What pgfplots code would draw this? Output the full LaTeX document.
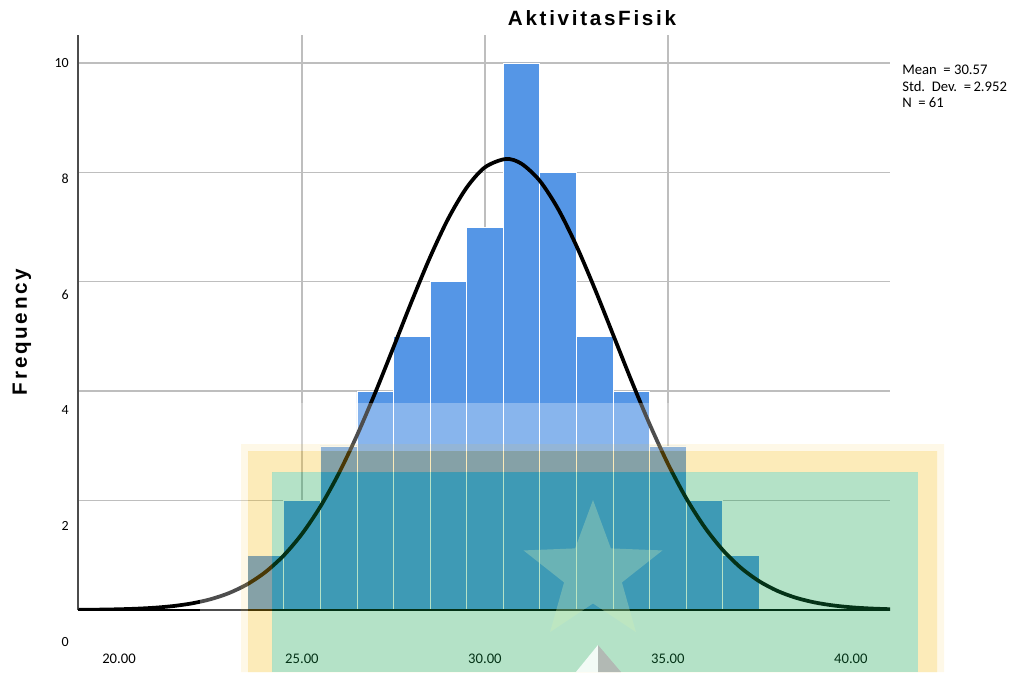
\documentclass[border=0pt]{standalone}
\usepackage{fontspec}
\setmainfont{Carlito}
\newfontfamily\arialsp{Liberation Sans}[LetterSpace=13]
\usepackage{pgfplots}
\pgfplotsset{compat=1.18}
\usetikzlibrary{shapes.geometric}

\definecolor{barblue}{HTML}{5596E6}
\definecolor{gridgray}{HTML}{BEBEBE}
\definecolor{wmyellow}{RGB}{245,188,22}
\definecolor{wmgreen}{RGB}{13,163,75}

\begin{document}
\begin{tikzpicture}
% 1 px of the reference = 0.75pt; axis box spans px x 78..890, y 35..610
\begin{axis}[
  name=ax, at={(0,0)}, anchor=south west,
  scale only axis, width=609pt, height=431.25pt,
  xmin=18.88, xmax=41.07, ymin=0, ymax=10.51,
  axis x line*=bottom, axis y line*=left,
  x axis line style={-, draw=none},
  y axis line style={-, black!70, line width=0.8pt},
  major tick length=0pt,
  xtick={20,25,30,35,40},
  xticklabels={20.00,25.00,30.00,35.00,40.00},
  xticklabel style={font=\fontsize{11}{11}\selectfont, anchor=center, yshift=-36.75pt},
  extra x ticks={25,30,35},
  extra x tick labels={\mbox{},\mbox{},\mbox{}},
  extra x tick style={grid=major},
  ytick={2,4,6,8,10},
  yticklabels={\mbox{},\mbox{},\mbox{},\mbox{},\mbox{}},
  ymajorgrids=true,
  major grid style={gridgray, line width=1.1pt},
]
\addplot[ybar interval, fill=barblue, draw=white, line width=0.5pt] coordinates {
  (23.5,1) (24.5,2) (25.5,3) (26.5,4) (27.5,5) (28.5,6) (29.5,7)
  (30.5,10) (31.5,8) (32.5,5) (33.5,4) (34.5,3) (35.5,2) (36.5,1) (37.5,1)
};
\draw[black, line width=1.1pt] (axis cs:18.88,0) -- (axis cs:41.07,0);
% normal curve, mean 30.57, sd 2.952, N 61, bin width 1
\addplot[smooth, black, line width=2.8pt] coordinates {
  (18.9,0.0033) (19,0.0038) (19.5,0.0073) (20,0.0136) (20.5,0.0245)
  (21,0.0430) (21.5,0.0735) (22,0.1219) (22.5,0.1965) (23,0.3077)
  (23.5,0.4684) (24,0.6926) (24.5,0.9955) (25,1.3902) (25.5,1.8862)
  (26,2.4873) (26.5,3.1865) (27,3.9675) (27.5,4.8002) (28,5.6433)
  (28.5,6.4467) (29,7.1565) (29.5,7.7196) (30,8.0914) (30.57,8.2437)
  (31,8.1567) (31.5,7.8445) (32,7.3311) (32.5,6.6572) (33,5.8748)
  (33.5,5.0374) (34,4.1975) (34.5,3.3984) (35,2.6736) (35.5,2.0440)
  (36,1.5184) (36.5,1.0962) (37,0.7690) (37.5,0.5241) (38,0.3471)
  (38.5,0.2234) (39,0.1397) (39.5,0.0849) (40,0.0501) (40.5,0.0288)
  (41,0.0160) (41.07,0.0145)
};
\end{axis}
% y tick labels, set on their own (slightly stretched) scale as in the reference
\begin{axis}[
  at={(0pt,-24pt)}, anchor=south west,
  scale only axis, width=609pt, height=434.25pt,
  xmin=0, xmax=1, ymin=0, ymax=10,
  axis line style={draw=none}, major tick length=0pt,
  xtick=\empty, ytick={0,2,4,6,8,10},
  yticklabels={0,2,4,6,8,10},
  yticklabel style={font=\fontsize{10.5}{10.5}\selectfont, anchor=east, inner sep=0pt, xshift=-6.75pt},
]
\addplot[draw=none] coordinates {(0,0)};
\end{axis}
\begin{scope}[shift={(ax.south west)}, x=0.75pt, y=-0.75pt, shift={(-78,-610)}]
  % watermark
  \fill[white, opacity=0.3] (200,403) rectangle (955,451);
  \fill[white, opacity=0.3] (200,451) rectangle (248,672);
  \fill[wmyellow, opacity=0.1, even odd rule] (241,444) rectangle (944,672) (248,451) rectangle (937,672);
  \fill[wmyellow, opacity=0.3, even odd rule] (248,451) rectangle (937,672) (272,472) rectangle (918,672);
  \fill[wmgreen, opacity=0.31] (272,472) rectangle (918,672);
  \node[star, star points=5, star point ratio=2.4, minimum size=109.5pt, inner sep=0pt,
        fill=yellow!40!green!30, opacity=0.3] at (593,573) {};
  \fill[white, opacity=0.85] (598,645) -- (576,672) -- (598,672) -- cycle;
  \fill[black!30, opacity=0.85] (598,645) -- (598,672) -- (621,672) -- cycle;
  % texts
  \node[font=\arialsp\bfseries\fontsize{15.5}{15.5}\selectfont] at (592,18) {AktivitasFisik};
  \node[font=\arialsp\bfseries\fontsize{15.5}{15.5}\selectfont, rotate=90] at (22,332) {Frequency};
  \begin{scope}[every node/.style={anchor=base west, inner sep=0pt, font=\fontsize{11}{11}\selectfont}]
    \node at (902,75) {Mean\ \ = 30.57};
    \node at (902,92) {Std.\ \ Dev.\ \ =\,2.952};
    \node at (902,108) {N\ \ = 61};
  \end{scope}
  \pgfresetboundingbox
  \path[use as bounding box] (0,0) rectangle (1018,672);
\end{scope}
\end{tikzpicture}
\end{document}
